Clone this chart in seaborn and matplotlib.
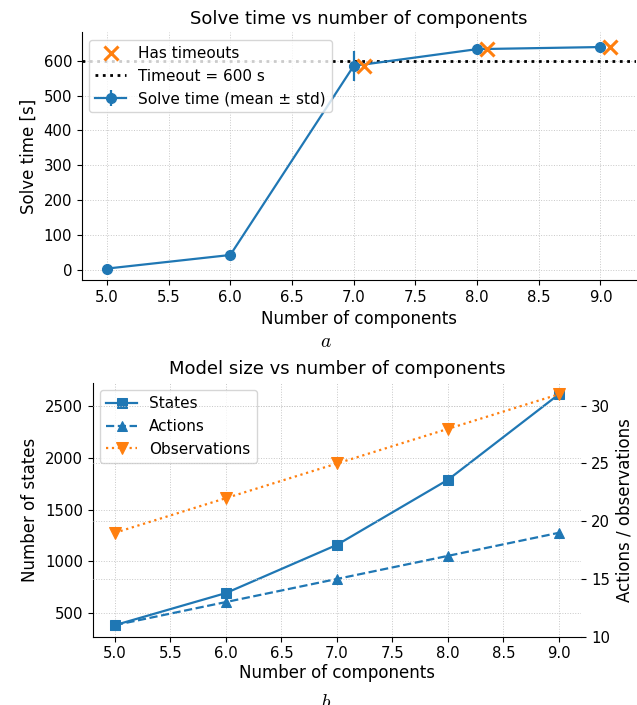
import numpy as np
import matplotlib
matplotlib.use("Agg")
import matplotlib.pyplot as plt
from matplotlib.ticker import MultipleLocator
import seaborn as sns

plt.rcParams['font.family'] = ['DejaVu Sans']
plt.rcParams['mathtext.fontset'] = 'cm'

### Data
n_components = [5, 6, 7, 8, 9]
solve_mean = [4, 43, 585, 633, 639]
solve_std = [0.5, 3, 44, 12, 10]
timeout_components = [7, 8, 9]
timeout_solve_mean = [585, 633, 639]
timeout_s = 600

n_states = [384, 694, 1160, 1789, 2616]
n_actions = [11, 13, 15, 17, 19]
n_observations = [19, 22, 25, 28, 31]

blue = sns.color_palette()[0]
orange = sns.color_palette()[1]
grid_kw = dict(color='#c8c8c8', linestyle=':', linewidth=0.7)
tick_fs = 10.7
label_fs = 12
title_fs = 13
legend_fs = 11

fig = plt.figure(figsize=(6.37, 7.05), dpi=100)
ax_time = fig.add_axes([0.1283, 0.6028, 0.8694, 0.3514])
ax_size = fig.add_axes([0.1455, 0.0969, 0.7669, 0.3603])

### (a) Solve time
ax_time.grid(True, **grid_kw)
h_to, = ax_time.plot(np.array(timeout_components) + 0.08, timeout_solve_mean, linestyle='none',
                     marker='x', markersize=10, markeredgewidth=2.2, color=orange, label='Has timeouts', zorder=4)
h_line = ax_time.axhline(timeout_s, color='black', linestyle=':', linewidth=2, label=f'Timeout = {timeout_s} s')
h_err = ax_time.errorbar(n_components, solve_mean, yerr=solve_std, marker='o', markersize=7, color=blue,
                         linewidth=1.6, elinewidth=1.6, label='Solve time (mean \u00b1 std)', zorder=3)
ax_time.set_xlim(4.796, 9.284)
ax_time.set_ylabel('Solve time [s]', fontsize=label_fs)
ax_time.set_xlabel('Number of components', fontsize=label_fs, labelpad=4)
ax_time.set_title('Solve time vs number of components', fontsize=title_fs)
ax_time.tick_params(labelsize=tick_fs, length=3.5, width=0.8)
ax_time.legend(handles=[h_to, h_line, h_err], loc='upper left', fontsize=legend_fs)
sns.despine(ax=ax_time)

### (b) Model size
ax_acts = ax_size.twinx()
ax_size.grid(True, **grid_kw)
ax_acts.grid(True, **grid_kw)
sns.lineplot(x=n_components, y=n_states, ax=ax_size, color=blue, marker='s', markersize=7,
             markeredgecolor=blue, linewidth=1.6, label='States')
sns.lineplot(x=n_components, y=n_actions, ax=ax_acts, color=blue, marker='^', markersize=7,
             markeredgecolor=blue, linewidth=1.6, linestyle='--', label='Actions')
sns.lineplot(x=n_components, y=n_observations, ax=ax_acts, color=orange, marker='v', markersize=8,
             markeredgecolor=orange, linewidth=1.6, linestyle=':', label='Observations')

ax_acts.yaxis.set_major_locator(MultipleLocator(5))
ax_size.set_xlabel('Number of components', fontsize=label_fs, labelpad=2)
ax_size.set_ylabel('Number of states', fontsize=label_fs)
ax_acts.set_ylabel('Actions / observations', fontsize=label_fs)
ax_size.set_title('Model size vs number of components', fontsize=title_fs)
ax_size.tick_params(labelsize=tick_fs, length=3.5, width=0.8)
ax_acts.tick_params(labelsize=tick_fs, length=3.5, width=0.8)

h1, l1 = ax_size.get_legend_handles_labels()
h2, l2 = ax_acts.get_legend_handles_labels()
ax_acts.get_legend().remove()
ax_size.legend(h1 + h2, l1 + l2, loc='upper left', fontsize=legend_fs)

sns.despine(ax=ax_size)
for side in ['top', 'right', 'left', 'bottom']:
    ax_acts.spines[side].set_visible(False)

### captions
fig.text(0.512, 1 - 341.7 / 705, '$a$', ha='center', va='center', fontsize=14)
fig.text(0.512, 1 - 703 / 705, '$b$', ha='center', va='center', fontsize=14)

fig.savefig('out.png', dpi=100)
